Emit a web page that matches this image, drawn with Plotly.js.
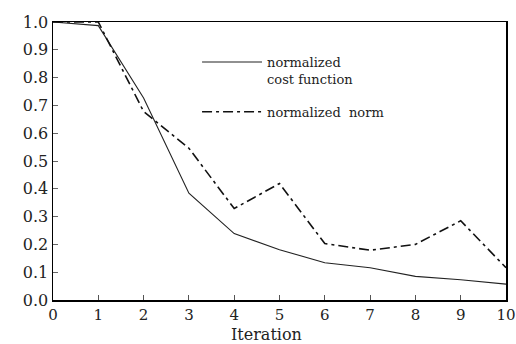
<!DOCTYPE html>
<html>
<head>
<meta charset="utf-8">
<script src="https://cdn.plot.ly/plotly-3.0.1.min.js"></script>
<style>html,body{margin:0;padding:0;background:#fff;}#chart{width:516px;height:344px;}</style>
</head>
<body>
<div id="chart"></div>
<script>
var iterations = [0, 1, 2, 3, 4, 5, 6, 7, 8, 9, 10];
var costFunction = [1.0, 0.987, 0.727, 0.384, 0.239, 0.181, 0.134, 0.116, 0.085, 0.073, 0.057];
var normValues = [1.0, 1.0, 0.678, 0.546, 0.329, 0.419, 0.203, 0.179, 0.2, 0.285, 0.116];
var yTicks = [0, 0.1, 0.2, 0.3, 0.4, 0.5, 0.6, 0.7, 0.8, 0.9, 1.0];
var xTitle = 'Iteration';

var SERIF = 'DejaVu Serif';

var traces = [
  {x: iterations, y: costFunction, mode: 'lines', name: 'normalized<br>cost function',
   legendgroup: 'a', line: {color: '#222', width: 1.1}},
  {x: iterations, y: normValues, mode: 'lines', name: 'normalized  norm',
   legendgroup: 'b', line: {color: '#111', width: 1.6, dash: '10px,4px,3px,4px'}}
];

var layout = {
  width: 516, height: 344,
  margin: {l: 53, r: 10, t: 22, b: 44},
  paper_bgcolor: '#fff', plot_bgcolor: '#fff',
  showlegend: true,
  legend: {x: 0.318, y: 0.91, xanchor: 'left', yanchor: 'top', valign: 'top',
    bgcolor: 'rgba(0,0,0,0)', itemwidth: 60, tracegroupgap: 13,
    font: {family: SERIF, size: 13, color: '#222'}},
  xaxis: {range: [0, 10], tickmode: 'array', tickvals: iterations,
    showgrid: false, zeroline: false, showline: true, mirror: true,
    linecolor: '#000', linewidth: 1.5, ticks: 'inside', ticklen: 5, tickcolor: '#555',
    tickfont: {family: SERIF, size: 15, color: '#222'}},
  yaxis: {range: [0, 1], tickmode: 'array', tickvals: yTicks, tickformat: '.1f',
    showgrid: false, zeroline: false, showline: true, mirror: true,
    linecolor: '#000', linewidth: 1.5, ticks: 'inside', ticklen: 5, tickcolor: '#666',
    tickfont: {family: SERIF, size: 16, color: '#222'}},
  annotations: [{text: xTitle, xref: 'paper', yref: 'paper', x: 0.472, y: -0.125,
    xanchor: 'center', yanchor: 'middle', showarrow: false,
    font: {family: SERIF, size: 16, color: '#222'}}]
};

Plotly.newPlot('chart', traces, layout, {displayModeBar: false, staticPlot: true});
</script>
</body>
</html>
